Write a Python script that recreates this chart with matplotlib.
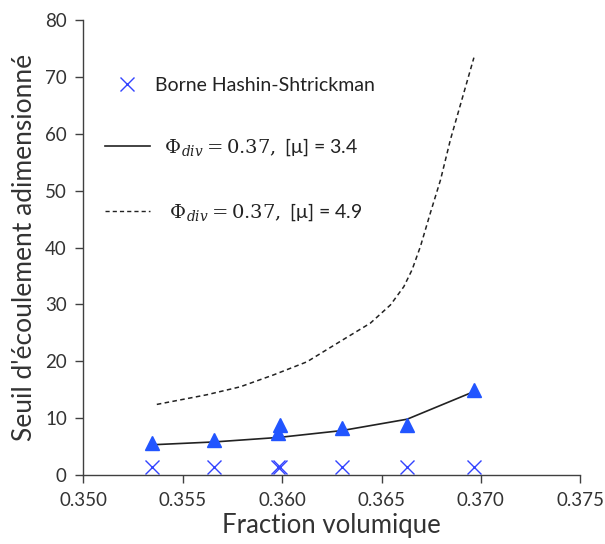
import numpy as np
import matplotlib
matplotlib.use('Agg')
import matplotlib.pyplot as plt
from matplotlib.lines import Line2D

plt.rcParams['font.family'] = ['Lato', 'DejaVu Sans']
plt.rcParams['mathtext.fontset'] = 'dejavuserif'

# data
x_tri = [0.35345, 0.35658, 0.35979, 0.35990, 0.36301, 0.36629, 0.36968]
y_tri = [5.6, 6.2, 7.3, 8.8, 8.2, 8.8, 15.0]

x_hs = [0.35345, 0.35658, 0.35979, 0.35990, 0.36301, 0.36629, 0.36968]
y_hs = [1.35, 1.35, 1.35, 1.35, 1.35, 1.35, 1.35]

x_solid = [0.35345, 0.35658, 0.35985, 0.36301, 0.36629, 0.36968]
y_solid = [5.3, 5.8, 6.6, 7.8, 9.8, 14.7]

x_dash = [0.35369, 0.35621, 0.35789, 0.35957, 0.36125, 0.36293, 0.36444,
          0.36545, 0.36612, 0.36654, 0.36696, 0.36746, 0.36797, 0.36847, 0.36965]
y_dash = [12.4, 14.1, 15.5, 17.6, 19.9, 23.5, 26.7,
          29.9, 33.1, 36.1, 40.2, 46.1, 51.9, 59.0, 73.4]

lab_hs = 'Borne Hashin-Shtrickman'
lab_34 = r'  $\Phi_{div} = 0.37,$ [μ] = 3.4'
lab_49 = r'   $\Phi_{div} = 0.37,$ [μ] = 4.9'

grey = '#404040'

fig = plt.figure(figsize=(6.05, 5.44), dpi=100)
ax = fig.add_axes([0.138, 0.127, 0.821, 0.836])

ax.plot(x_dash, y_dash, color='#222222', lw=1.1, ls=(0, (3, 2.2)))
ax.plot(x_solid, y_solid, color='#222222', lw=1.2)
ax.plot(x_tri, y_tri, ls='none', marker='^', ms=10, color='#2255ff', mec='#2255ff')
ax.plot(x_hs, y_hs, ls='none', marker='x', ms=10, mew=1.0, color='#3344ff')

ax.set_xlim(0.350, 0.375)
ax.set_ylim(0, 80)
ax.set_xticks(np.arange(0.350, 0.3751, 0.005))
ax.set_yticks(np.arange(0, 81, 10))
ax.xaxis.set_major_formatter(matplotlib.ticker.FormatStrFormatter('%.3f'))

for s in ['top', 'right']:
    ax.spines[s].set_visible(False)
for s in ['left', 'bottom']:
    ax.spines[s].set_color(grey)
    ax.spines[s].set_linewidth(1.0)
ax.tick_params(direction='out', length=6, width=1.0, color=grey,
               labelcolor='#333333', labelsize=13.5, pad=6)

ax.set_xlabel('Fraction volumique', fontsize=18.5, color='#333333', labelpad=3)
ax.set_ylabel("Seuil d'écoulement adimensionné", fontsize=19, color='#333333', labelpad=6)

handles = [Line2D([], [], ls='none', marker='x', ms=10, mew=1.0, color='#3344ff'),
           Line2D([], [], color='#222222', lw=1.2),
           Line2D([], [], color='#222222', lw=1.0, ls=(0, (3, 2.2)))]
leg = ax.legend(handles, [lab_hs, lab_34, lab_49], loc='upper left',
                bbox_to_anchor=(0.043, 0.875), frameon=False, fontsize=14,
                handlelength=2.3, handletextpad=0.3, labelspacing=2.2,
                borderaxespad=0, borderpad=0)
for t in leg.get_texts():
    t.set_color('#222222')

fig.savefig('out.png', dpi=100)
